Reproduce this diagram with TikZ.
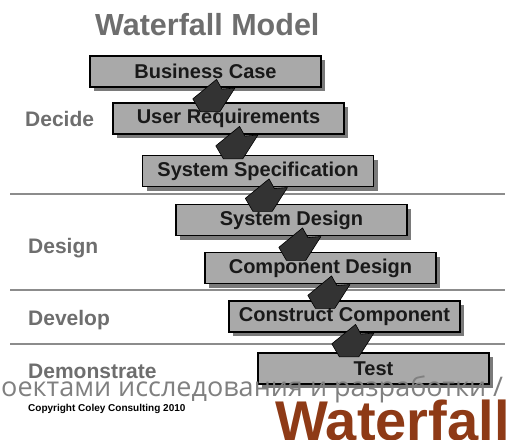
\documentclass[tikz,border=0pt]{standalone}
\usepackage{fontspec}
\setmainfont{Liberation Sans}
\newfontfamily\cyrfont{Open Sans}
\usetikzlibrary{calc,shadows}

\definecolor{boxgray}{HTML}{A9A9A9}
\definecolor{shadegray}{HTML}{7A7A7A}
\definecolor{labelgray}{HTML}{6E6E6E}
\definecolor{linegray}{HTML}{8C8C8C}
\definecolor{arrowdark}{HTML}{333333}
\definecolor{rust}{HTML}{8E3A16}

\tikzset{
  stage/.style={draw=black, line width=1.2pt, fill=boxgray,
    minimum width=231pt, minimum height=31pt, inner sep=0pt,
    font=\fontsize{20}{22}\selectfont\bfseries, text=black!90,
    drop shadow={shadow xshift=4pt, shadow yshift=-4pt, fill=shadegray, opacity=1}},
  phase/.style={anchor=base west, inner sep=0pt, text=labelgray,
    font=\fontsize{21}{24}\selectfont\bfseries},
  sepline/.style={draw=linegray, line width=1.5pt},
  fallarrow/.style={fill=arrowdark, draw=black, line width=0.6pt, line join=round}
}

% fat arrow from the lower left corner of one stage down to the next
\newcommand{\fallarrow}[2]{%
  \draw[fallarrow, shift={($(#1.south west)+(125pt,-8pt)$)}, scale=1.08]
    (2,-15) -- (7,-6) -- (19,-7) -- (5,15) -- (-13,15) -- (-20,3) -- cycle;}

\begin{document}
\begin{tikzpicture}[x=1pt,y=-1pt]
  \useasboundingbox (0,0) rectangle (513,439);
  \clip (0,0) rectangle (513,439);
  \fill[white] (0,0) rectangle (513,439);

  \node[anchor=base west, inner sep=0pt, text=labelgray,
        font=\fontsize{30.5}{34}\selectfont\bfseries] (title) at (95,35) {Waterfall Model};

  % phase separators
  \foreach \y in {194,290,344}
    \draw[sepline] (10,\y) -- (505,\y);

  % phases
  \node[phase] (decide) at (25,126) {Decide};
  \node[phase] (design) at (28,253) {Design};
  \node[phase] (develop) at (28,325) {Develop};
  \node[phase] (demo) at (28,378) {Demonstrate};

  % stages
  \node[stage] (bcase) at (205.5,71.5) {Business Case};
  \node[stage] (ureq) at (228.5,118.5) {User Requirements};
  \node[stage] (sspec) at (258,171) {System Specification};
  \node[stage] (sdes) at (291.5,220) {System Design};
  \node[stage] (cdes) at (320.5,268) {Component Design};
  \node[stage] (ccon) at (344.5,316.5) {Construct Component};
  \node[stage] (test) at (373.5,368.5) {Test};

  \fallarrow{bcase}{ureq}
  \fallarrow{ureq}{sspec}
  \fallarrow{sspec}{sdes}
  \fallarrow{sdes}{cdes}
  \fallarrow{cdes}{ccon}
  \fallarrow{ccon}{test}

  % overlay texts at the bottom
  \node[anchor=base west, inner sep=0pt, text=black!50,
        font=\cyrfont\fontsize{27}{30}\selectfont] (ruline) at (1,396)
        {оектами исследования и разработки /};
  \node[anchor=base west, inner sep=0pt, text=black,
        font=\fontsize{10}{12}\selectfont\bfseries] (copy) at (28,411)
        {Copyright Coley Consulting 2010};
  \node[anchor=base west, inner sep=0pt, text=rust,
        font=\fontsize{56}{60}\selectfont\bfseries] (brand) at (275,440) {Waterfall};
\end{tikzpicture}
\end{document}
